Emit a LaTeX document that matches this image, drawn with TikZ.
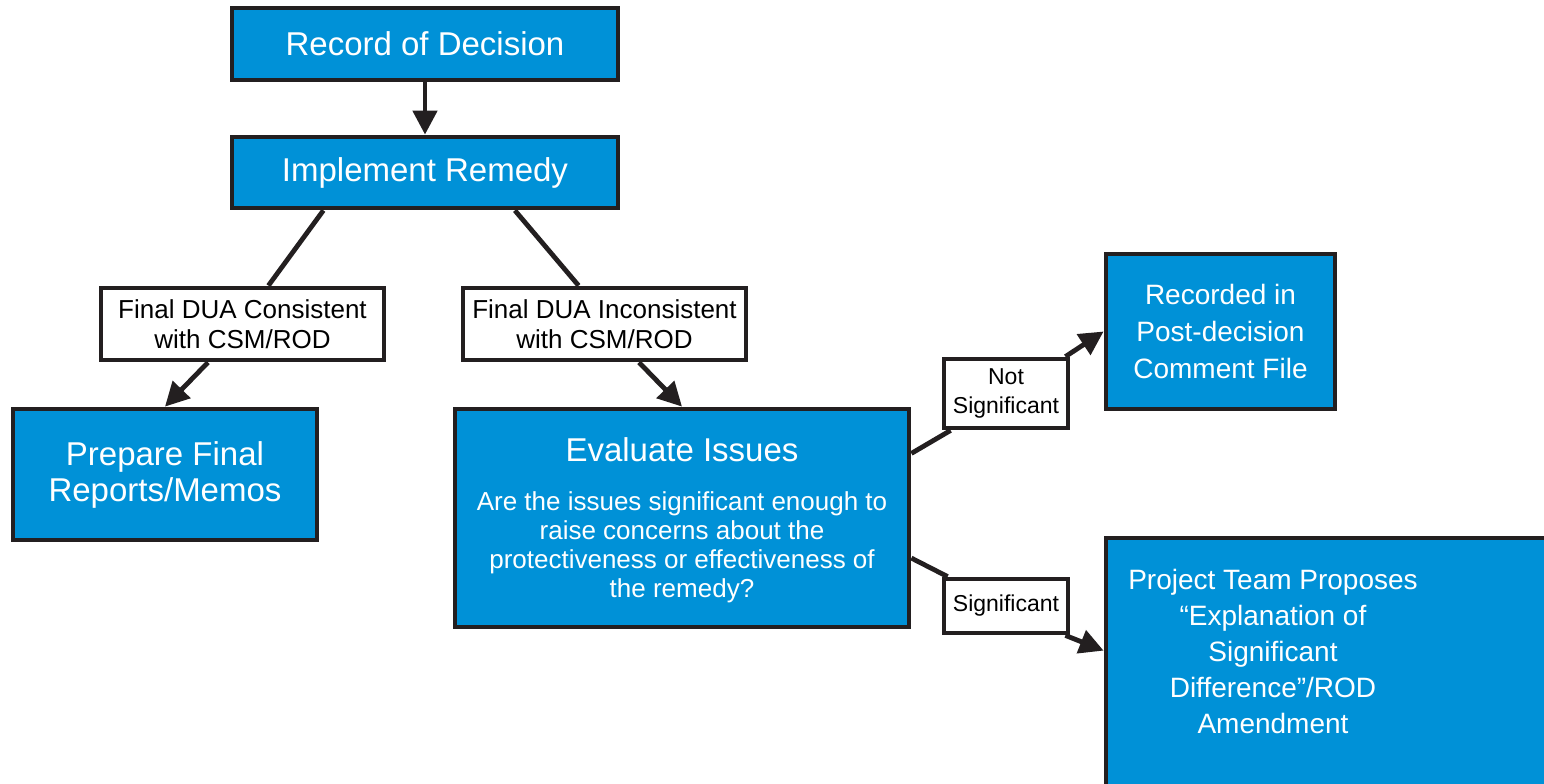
\documentclass[tikz,border=0pt]{standalone}
\usepackage{fontspec}
\setmainfont{Liberation Sans}
\usetikzlibrary{arrows.meta,positioning,calc}
\definecolor{boxblue}{RGB}{0,145,215}
\definecolor{edgegray}{RGB}{35,31,32}

\begin{document}
\begin{tikzpicture}[x=0.5pt, y=-0.5pt, >={Triangle[length=12pt,width=12pt]}, line width=2.4pt, color=edgegray]
\tikzstyle{blockbox}=[draw=edgegray, fill=boxblue, text=white, align=center, inner sep=2pt, font=\fontsize{16.5}{18}\selectfont]
\tikzstyle{notebox}=[draw=edgegray, fill=white, text=black, align=center, inner sep=2pt, font=\fontsize{13}{15}\selectfont]
\tikzstyle{boxtext}=[text=white, align=center, inner sep=0pt]
\clip (0,0) rectangle (1544,783);
\fill[white] (0,0) rectangle (1544,783);
\node[blockbox, minimum width=193pt, minimum height=36pt]   (rod)    at (425,44)      {Record of Decision};
\node[blockbox, minimum width=193pt, minimum height=35.5pt] (imp)    at (425,172.5)   {Implement Remedy};
\node[notebox, minimum width=141.5pt, minimum height=36pt]  (cons)   at (242.5,324)   {Final DUA Consistent\\with CSM/ROD};
\node[notebox, minimum width=141.5pt, minimum height=36pt]  (incons) at (604.5,324)   {Final DUA Inconsistent\\with CSM/ROD};
\node[blockbox, minimum width=152pt, minimum height=65.5pt] (prep)   at (165,474.5)   {Prepare Final\\Reports/Memos};
\node[blockbox, minimum width=227pt, minimum height=109pt]  (eval)   at (682,518)     {};
\node[boxtext, anchor=base, font=\fontsize{16.5}{18}\selectfont] (evaltitle) at (682,461) {Evaluate Issues};
\node[boxtext, font=\fontsize{13}{14.5}\selectfont] (evalq) at (682,547) {Are the issues significant enough to\\raise concerns about the\\protectiveness or effectiveness of\\the remedy?};
\node[notebox, minimum width=62pt, minimum height=34.5pt, font=\fontsize{11.5}{14.5}\selectfont] (ns)  at (1006,393.5) {Not\\Significant};
\node[notebox, minimum width=62pt, minimum height=27pt, font=\fontsize{11.5}{14.5}\selectfont]   (sig) at (1006,606)   {Significant};
\node[blockbox, minimum width=114.5pt, minimum height=77.5pt, font=\fontsize{14}{18.5}\selectfont] (rec) at (1220.5,331.5) {Recorded in\\Post-decision\\Comment File};
\node[blockbox, minimum width=227pt, minimum height=131pt] (prj) at (1333,669) {};
\node[boxtext, font=\fontsize{14}{18}\selectfont] (prjtext) at (1273,651) {Project Team Proposes\\``Explanation of\\Significant\\Difference''/ROD\\Amendment};
\draw[->] (rod) -- (imp);
\draw ($(imp.south west)!0.24!(imp.south east)$) -- ($(cons.north west)!0.59!(cons.north east)$);
\draw[->] ($(cons.south west)!0.38!(cons.south east)$) -- (prep.north);
\draw ($(imp.south west)!0.73!(imp.south east)$) -- ($(incons.north west)!0.41!(incons.north east)$);
\draw[->] ($(incons.south west)!0.62!(incons.south east)$) -- (eval.north);
\draw ($(eval.north east)!0.21!(eval.south east)$) -- ($(ns.south west)+(9,0)$);
\draw[->] ($(ns.north east)+(-5,0)$) -- (rec.west);
\draw ($(eval.north east)!0.68!(eval.south east)$) -- ($(sig.north west)+(6,0)$);
\draw[->] ($(sig.south east)+(-5,0)$) -- ($(prj.north west)+(0,115)$);
\end{tikzpicture}
\end{document}
